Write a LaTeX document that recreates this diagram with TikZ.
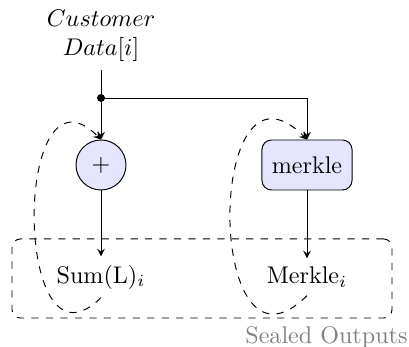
\documentclass[tikz,border=0pt]{standalone}
\usetikzlibrary{arrows.meta}
\begin{document}
\begin{tikzpicture}[x=0.415pt,y=-0.415pt,>=stealth,
  proc/.style={draw,fill=blue!10,minimum height=20.75pt,inner sep=0pt},
  feedback/.style={draw,dashed,->},
  plain/.style={inner sep=3.33pt}]
\useasboundingbox (0,0) rectangle (409,347);
\node[plain,align=center] (cust) at (101,36) {$Customer$\\$Data[i]$};
\node[circle,fill=black,inner sep=0pt,minimum size=3.3pt] (dot) at (101,98) {};
\node[proc,circle,minimum size=20.75pt] (plus) at (101,165) {$+$};
\node[proc,rounded corners=4pt,minimum width=37.4pt] (merkle) at (307,165) {merkle};
\node[plain] (sum) at (101,277) {Sum(L)$_i$};
\node[plain] (merk) at (307,277) {Merkle$_i$};
\node[draw,dashed,rounded corners=3.5pt,minimum width=157.7pt,minimum height=32.8pt] (sealed) at (202,278.5) {};
\node[text=black!50,anchor=east,inner sep=0pt] (lbl) at (408,337) {Sealed Outputs};
\draw (cust.south) -- (dot.center);
\draw[->] (dot.center) -- (plus.north);
\draw[->] (dot.center) -| (merkle.north);
\draw[->] (plus.south) -- (sum.north);
\draw[->] (merkle.south) -- (merk.north);
\draw[feedback] (sum.south) .. controls +(-135:52pt) and +(135:52pt) .. (plus.north);
\draw[feedback] (merk.south) .. controls +(-135:60pt) and +(135:60pt) .. (merkle.north);
\end{tikzpicture}
\end{document}
